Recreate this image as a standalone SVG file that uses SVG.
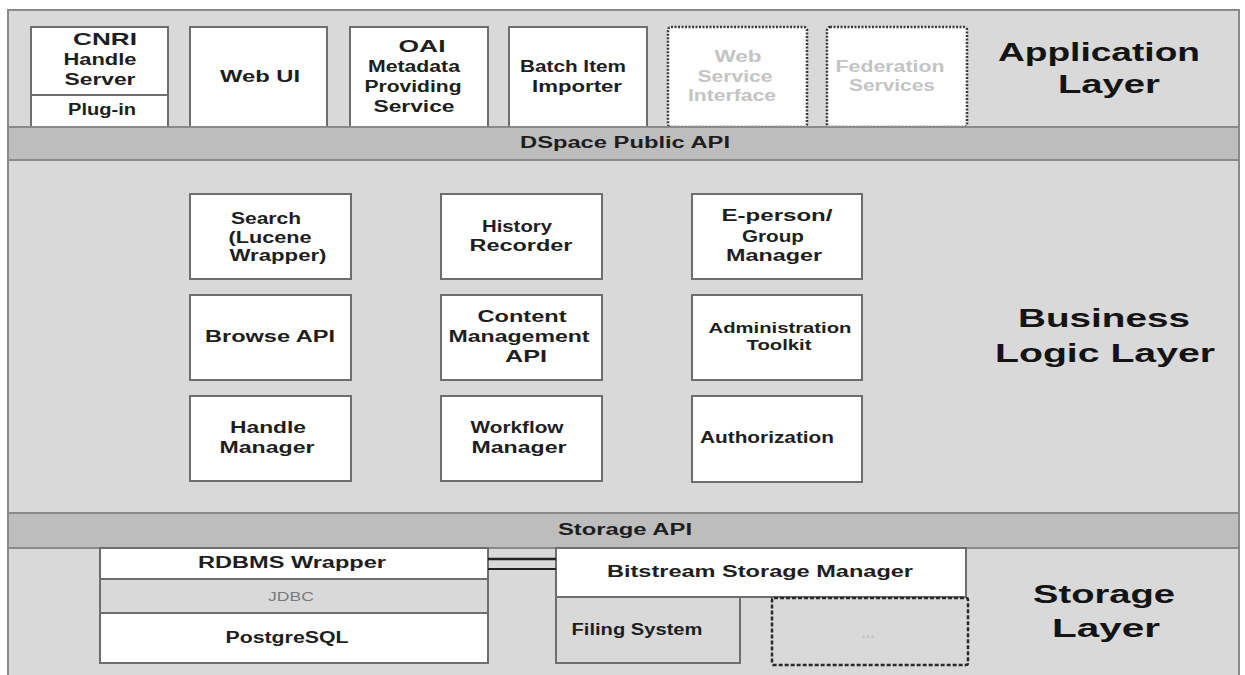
<svg xmlns="http://www.w3.org/2000/svg" width="1245" height="675" viewBox="0 0 1245 675">
<style>
.frame{fill:#d9d9d9;stroke:#8a8a8a;stroke-width:2}
.band{fill:#bdbdbd;stroke:#8a8a8a;stroke-width:2}
.box{fill:#ffffff;stroke:#6e6e6e;stroke-width:2}
.gbox{fill:#d9d9d9;stroke:#6e6e6e;stroke-width:2}
.dot{fill:#ffffff;stroke:#3a3a3a;stroke-width:2.5;stroke-dasharray:2 1.5}
.dash{fill:#d9d9d9;stroke:#2a2a2a;stroke-width:2.5;stroke-dasharray:4 2}
.div{stroke:#6e6e6e;stroke-width:2}
.conn{stroke:#222;fill:none}
text{font-family:"Liberation Sans",Arial,sans-serif;font-weight:bold;text-anchor:middle;fill:#1e1e1e}
.t{font-size:16px}
.ts{font-size:15px}
.tb{font-size:17px}
.g{fill:#c4c4c4}
.layer{font-size:26px;fill:#141414}
.jdbc{font-size:12.5px;font-weight:normal;fill:#7a7a7a}
</style>
<g id="background">
<rect class="frame" x="8" y="10" width="1231" height="672"/>
</g>
<g id="application-layer">
<text class="layer" x="1099" y="61" textLength="202" lengthAdjust="spacingAndGlyphs">Application</text>
<text class="layer" x="1109" y="93" textLength="102" lengthAdjust="spacingAndGlyphs">Layer</text>
</g>
<g id="cnri">
<rect class="box" x="31" y="27" width="137" height="100"/>
<line class="div" x1="31" y1="95" x2="168" y2="95"/>
<text class="tb" x="105" y="45" textLength="64" lengthAdjust="spacingAndGlyphs">CNRI</text>
<text class="t" x="100" y="65" textLength="73" lengthAdjust="spacingAndGlyphs">Handle</text>
<text class="t" x="100" y="85" textLength="71" lengthAdjust="spacingAndGlyphs">Server</text>
<text class="t" x="102" y="115" textLength="68" lengthAdjust="spacingAndGlyphs">Plug-in</text>
</g>
<g id="webui">
<rect class="box" x="190" y="27" width="137" height="100"/>
<text class="t" x="260" y="82" textLength="80" lengthAdjust="spacingAndGlyphs">Web UI</text>
</g>
<g id="oai">
<rect class="box" x="350" y="27" width="138" height="100"/>
<text class="tb" x="422" y="52" textLength="47" lengthAdjust="spacingAndGlyphs">OAI</text>
<text class="t" x="414" y="72" textLength="92" lengthAdjust="spacingAndGlyphs">Metadata</text>
<text class="t" x="413" y="92" textLength="97" lengthAdjust="spacingAndGlyphs">Providing</text>
<text class="t" x="414" y="112" textLength="81" lengthAdjust="spacingAndGlyphs">Service</text>
</g>
<g id="batch">
<rect class="box" x="509" y="27" width="138" height="100"/>
<text class="t" x="573" y="72" textLength="106" lengthAdjust="spacingAndGlyphs">Batch Item</text>
<text class="t" x="577" y="92" textLength="90" lengthAdjust="spacingAndGlyphs">Importer</text>
</g>
<g id="webservice">
<rect class="dot" x="668" y="27" width="139" height="100" rx="3"/>
<text class="t g" x="738" y="62" textLength="47" lengthAdjust="spacingAndGlyphs">Web</text>
<text class="t g" x="735" y="82" textLength="75" lengthAdjust="spacingAndGlyphs">Service</text>
<text class="t g" x="732" y="101" textLength="88" lengthAdjust="spacingAndGlyphs">Interface</text>
</g>
<g id="federation">
<rect class="dot" x="827" y="27" width="140" height="100" rx="3"/>
<text class="t g" x="890" y="72" textLength="109" lengthAdjust="spacingAndGlyphs">Federation</text>
<text class="t g" x="892" y="91" textLength="86" lengthAdjust="spacingAndGlyphs">Services</text>
</g>
<g id="public-api">
<rect class="band" x="8" y="127" width="1231" height="33"/>
<text class="t" x="625" y="148" textLength="210" lengthAdjust="spacingAndGlyphs">DSpace Public API</text>
</g>
<g id="business-layer">
<text class="layer" x="1104" y="327" textLength="172" lengthAdjust="spacingAndGlyphs">Business</text>
<text class="layer" x="1105" y="362" textLength="220" lengthAdjust="spacingAndGlyphs">Logic Layer</text>
</g>
<g id="search">
<rect class="box" x="190" y="194" width="161" height="85"/>
<text class="t" x="266" y="224" textLength="70" lengthAdjust="spacingAndGlyphs">Search</text>
<text class="t" x="270" y="243" textLength="83" lengthAdjust="spacingAndGlyphs">(Lucene</text>
<text class="t" x="278" y="261" textLength="97" lengthAdjust="spacingAndGlyphs">Wrapper)</text>
</g>
<g id="history">
<rect class="box" x="441" y="194" width="161" height="85"/>
<text class="t" x="517" y="232" textLength="70" lengthAdjust="spacingAndGlyphs">History</text>
<text class="t" x="521" y="251" textLength="103" lengthAdjust="spacingAndGlyphs">Recorder</text>
</g>
<g id="eperson">
<rect class="box" x="692" y="194" width="170" height="85"/>
<text class="t" x="777" y="221" textLength="111" lengthAdjust="spacingAndGlyphs">E-person/</text>
<text class="t" x="773" y="242" textLength="62" lengthAdjust="spacingAndGlyphs">Group</text>
<text class="t" x="774" y="261" textLength="96" lengthAdjust="spacingAndGlyphs">Manager</text>
</g>
<g id="browse">
<rect class="box" x="190" y="295" width="161" height="85"/>
<text class="t" x="270" y="342" textLength="130" lengthAdjust="spacingAndGlyphs">Browse API</text>
</g>
<g id="content">
<rect class="box" x="441" y="295" width="161" height="85"/>
<text class="t" x="522" y="322" textLength="89" lengthAdjust="spacingAndGlyphs">Content</text>
<text class="t" x="519" y="342" textLength="141" lengthAdjust="spacingAndGlyphs">Management</text>
<text class="tb" x="526" y="362" textLength="42" lengthAdjust="spacingAndGlyphs">API</text>
</g>
<g id="admin">
<rect class="box" x="692" y="295" width="170" height="85"/>
<text class="ts" x="780" y="333" textLength="143" lengthAdjust="spacingAndGlyphs">Administration</text>
<text class="ts" x="779" y="350" textLength="65" lengthAdjust="spacingAndGlyphs">Toolkit</text>
</g>
<g id="handle">
<rect class="box" x="190" y="396" width="161" height="85"/>
<text class="t" x="268" y="433" textLength="76" lengthAdjust="spacingAndGlyphs">Handle</text>
<text class="t" x="267" y="453" textLength="95" lengthAdjust="spacingAndGlyphs">Manager</text>
</g>
<g id="workflow">
<rect class="box" x="441" y="396" width="161" height="85"/>
<text class="t" x="517" y="433" textLength="93" lengthAdjust="spacingAndGlyphs">Workflow</text>
<text class="t" x="519" y="453" textLength="95" lengthAdjust="spacingAndGlyphs">Manager</text>
</g>
<g id="authorization">
<rect class="box" x="692" y="396" width="170" height="86"/>
<text class="t" x="767" y="443" textLength="134" lengthAdjust="spacingAndGlyphs">Authorization</text>
</g>
<g id="storage-api">
<rect class="band" x="8" y="513" width="1231" height="35"/>
<text class="t" x="625" y="535" textLength="134" lengthAdjust="spacingAndGlyphs">Storage API</text>
</g>
<g id="storage-layer">
<text class="layer" x="1104" y="603" textLength="142" lengthAdjust="spacingAndGlyphs">Storage</text>
<text class="layer" x="1106" y="637" textLength="108" lengthAdjust="spacingAndGlyphs">Layer</text>
</g>
<g id="rdbms">
<rect class="box" x="100" y="548" width="388" height="31"/>
<text class="t" x="292" y="568" textLength="188" lengthAdjust="spacingAndGlyphs">RDBMS Wrapper</text>
</g>
<g id="jdbc">
<rect class="gbox" x="100" y="579" width="388" height="34"/>
<text class="jdbc" x="291" y="601" textLength="46" lengthAdjust="spacingAndGlyphs">JDBC</text>
</g>
<g id="postgresql">
<rect class="box" x="100" y="613" width="388" height="50"/>
<text class="t" x="287" y="643" textLength="123" lengthAdjust="spacingAndGlyphs">PostgreSQL</text>
</g>
<g id="bitstream">
<rect class="box" x="556" y="548" width="410" height="49"/>
<text class="t" x="760" y="577" textLength="306" lengthAdjust="spacingAndGlyphs">Bitstream Storage Manager</text>
</g>
<g id="filing">
<rect class="gbox" x="556" y="597" width="184" height="66"/>
<text class="t" x="637" y="635" textLength="131" lengthAdjust="spacingAndGlyphs">Filing System</text>
</g>
<g id="other-storage">
<rect class="dash" x="772" y="598" width="196" height="67" rx="2"/>
<text class="t g" x="868" y="638">...</text>
</g>
<g id="connectors">
<line class="conn" x1="488" y1="559" x2="556" y2="559" stroke-width="2.5"/>
<line class="conn" x1="488" y1="569" x2="556" y2="569" stroke-width="2"/>
</g>
</svg>
